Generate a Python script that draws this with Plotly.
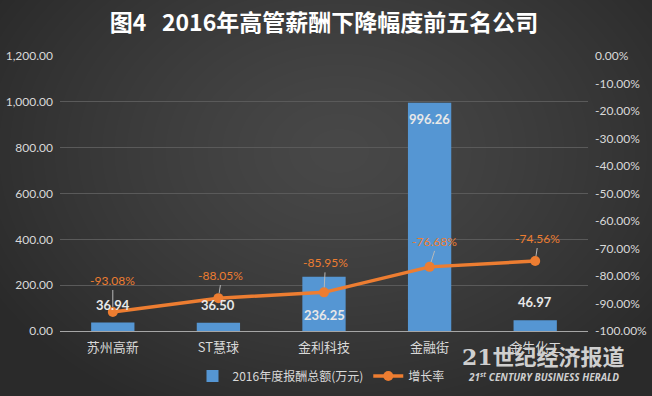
import base64
import struct
import zlib

import numpy as np
import plotly.graph_objects as go

categories = ["苏州高新", "ST慧球", "金利科技", "金融街", "金牛化工"]
pay_2016 = [36.94, 36.50, 236.25, 996.26, 46.97]
growth = [-0.9308, -0.8805, -0.8595, -0.7668, -0.7456]
growth_labels = ["-93.08%", "-88.05%", "-85.95%", "-76.68%", "-74.56%"]
left_ticks = [0, 200, 400, 600, 800, 1000, 1200]
left_ticktext = ["0.00", "200.00", "400.00", "600.00", "800.00", "1,000.00", "1,200.00"]
right_ticks = [0, -0.1, -0.2, -0.3, -0.4, -0.5, -0.6, -0.7, -0.8, -0.9, -1.0]
right_ticktext = ["0.00%", "-10.00%", "-20.00%", "-30.00%", "-40.00%", "-50.00%",
                  "-60.00%", "-70.00%", "-80.00%", "-90.00%", "-100.00%"]

W, H = 652, 396
L, R, T, B = 60, 64, 56, 65
PW, PH = W - L - R, H - T - B


def radial_png(w, h):
    yy, xx = np.mgrid[0:h, 0:w].astype(float)
    cx, cy = w * 0.52, h * 0.38
    d = np.sqrt(((xx - cx) / (w * 0.62)) ** 2 + ((yy - cy) / (h * 0.75)) ** 2)
    d = np.clip(d, 0, 1)
    c_in, c_out = 72.0, 42.0
    v = (c_in + (c_out - c_in) * d ** 1.3).astype(np.uint8)
    rgb = np.stack([v, v, v], axis=-1)
    raw = b"".join(b"\x00" + rgb[i].tobytes() for i in range(h))

    def chunk(tag, data):
        c = struct.pack(">I", len(data)) + tag + data
        return c + struct.pack(">I", zlib.crc32(tag + data) & 0xFFFFFFFF)

    png = b"\x89PNG\r\n\x1a\n"
    png += chunk(b"IHDR", struct.pack(">IIBBBBB", w, h, 8, 2, 0, 0, 0))
    png += chunk(b"IDAT", zlib.compress(raw, 9))
    png += chunk(b"IEND", b"")
    return "data:image/png;base64," + base64.b64encode(png).decode()


FONT = "Lato, 'Noto Sans CJK SC', sans-serif"
CJK = "'Noto Sans CJK SC', sans-serif"
TXT = "#d9d9d9"
ORANGE = "#ED7D31"

fig = go.Figure()
fig.add_trace(go.Bar(
    x=categories, y=pay_2016, name="2016年度报酬总额(万元)",
    marker=dict(color="#5596d3", line=dict(width=0)),
    yaxis="y",
))
fig.add_trace(go.Scatter(
    x=categories, y=growth, name="增长率", mode="lines+markers",
    line=dict(color=ORANGE, width=3.5),
    marker=dict(color=ORANGE, size=10),
    yaxis="y2",
))

# bar value labels
bar_label_mode = ["out", "out", "base", "top", "out"]
lab_font = dict(family=FONT, size=13, color="#e8e8e8")
for c, v, mode in zip(categories, pay_2016, bar_label_mode):
    if mode == "out":
        fig.add_annotation(x=c, y=v, xref="x", yref="y", text=f"<b>{v:.2f}</b>", showarrow=False,
                           yanchor="bottom", yshift=8, font=lab_font)
    elif mode == "base":
        fig.add_annotation(x=c, y=0, xref="x", yref="y", text=f"<b>{v:.2f}</b>", showarrow=False,
                           yanchor="bottom", yshift=6, font=lab_font)
    else:
        fig.add_annotation(x=c, y=v, xref="x", yref="y", text=f"<b>{v:.2f}</b>", showarrow=False,
                           yanchor="top", yshift=-6, font=lab_font)

# growth labels with leader lines
offsets = [(0, -22), (2, -13), (1, -20), (5, -16), (2, -13)]
for c, g, t, (ax, ay) in zip(categories, growth, growth_labels, offsets):
    fig.add_annotation(x=c, y=g, xref="x", yref="y2", text=t, showarrow=True,
                       arrowhead=0, arrowwidth=1, arrowcolor="#b8b8b8", ax=ax, ay=ay,
                       standoff=5, yanchor="bottom", xanchor="center",
                       font=dict(family=FONT, size=12, color=ORANGE))

# watermark
fig.add_annotation(xref="paper", yref="paper", x=(543 - L) / PW, y=-(357 - (H - B)) / PH,
                   xanchor="center", yanchor="middle",
                   text="<b>21世纪经济报道</b>", showarrow=False,
                   font=dict(family="'DejaVu Serif', 'Noto Sans CJK SC', serif", size=22,
                             color="#cfcfcf"))
fig.add_annotation(xref="paper", yref="paper", x=(543 - L) / PW, y=-(377 - (H - B)) / PH,
                   xanchor="center", yanchor="middle",
                   text="<b><i>21<sup>st</sup> CENTURY BUSINESS HERALD</i></b>", showarrow=False,
                   font=dict(family="'Open Sans', sans-serif", size=10, color="#cfcfcf"))

fig.add_layout_image(dict(source=radial_png(W, H), xref="paper", yref="paper",
                          x=-L / PW, y=1 + T / PH, sizex=W / PW, sizey=H / PH,
                          xanchor="left", yanchor="top", sizing="stretch", layer="below"))

fig.update_layout(
    width=W, height=H,
    margin=dict(l=L, r=R, t=T, b=B, autoexpand=False),
    paper_bgcolor="#3b3b3b", plot_bgcolor="rgba(0,0,0,0)",
    title=dict(text="<b>图4   2016年高管薪酬下降幅度前五名公司</b>", x=0.5, xanchor="center",
               xref="paper", y=1 - 23 / H, yanchor="middle",
               font=dict(family=CJK, size=23, color="#ffffff")),
    font=dict(family=FONT, size=12, color=TXT),
    bargap=0.59,
    showlegend=True,
    legend=dict(orientation="h", x=(321 - L) / PW, xanchor="center", y=-(376 - (H - B)) / PH,
                yanchor="middle", font=dict(family=CJK, size=12, color=TXT),
                bgcolor="rgba(0,0,0,0)", itemwidth=30, tracegroupgap=0),
    xaxis=dict(showgrid=False, showline=True, linecolor="#a6a6a6", linewidth=1,
               tickfont=dict(family=CJK, size=13, color=TXT), ticks="", automargin=False,
               ticklabelstandoff=4),
    yaxis=dict(range=[0, 1200], tickvals=left_ticks, ticktext=left_ticktext,
               showgrid=True, gridcolor="#5a5a5a", gridwidth=1, zeroline=False,
               showline=False, ticks="", automargin=False, ticklabelstandoff=6,
               tickfont=dict(family=FONT, size=12, color=TXT)),
    yaxis2=dict(range=[-1.0, 0], tickvals=right_ticks, ticktext=right_ticktext,
                overlaying="y", side="right", showgrid=False, zeroline=False,
                showline=False, ticks="", automargin=False, ticklabelstandoff=6,
                tickfont=dict(family=FONT, size=12, color=TXT)),
)

fig.write_html("out.html", config={"displayModeBar": False},
               post_script="document.body.style.margin='0';document.body.style.background='#3b3b3b';")
